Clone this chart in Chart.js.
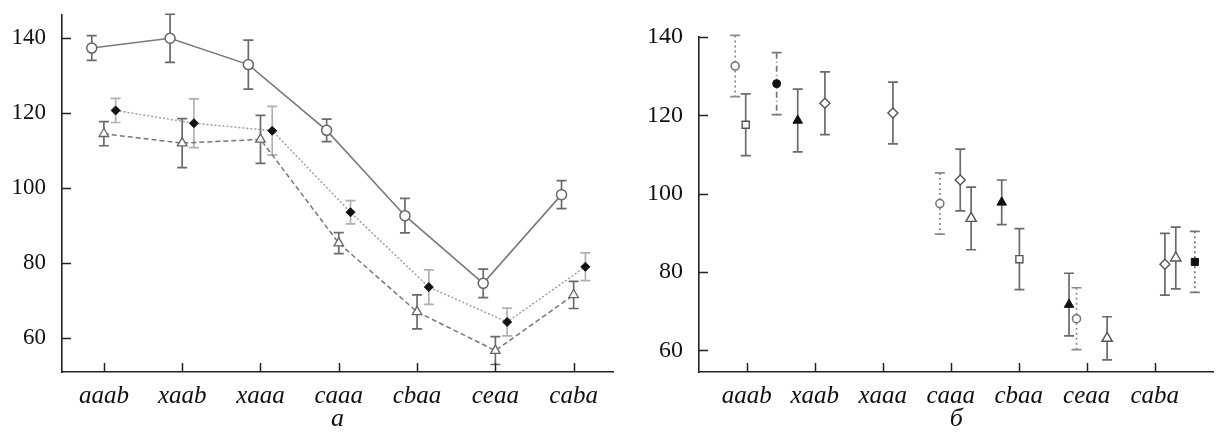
<!DOCTYPE html>
<html>
<head>
<meta charset="utf-8">
<script src="https://cdn.jsdelivr.net/npm/chart.js@4.4.0/dist/chart.umd.min.js"></script>
<style>
  body { margin: 0; background: #fff; overflow: hidden; }
  #panelA { position: absolute; left: 0; top: 0; }
  #panelB { position: absolute; left: 620px; top: 0; }
</style>
</head>
<body>
<canvas id="panelA" width="620" height="440"></canvas>
<canvas id="panelB" width="601" height="440"></canvas>
<script>
// categorías del eje x (las dos gráficas)
const categories = ['aaab', 'xaab', 'xaaa', 'caaa', 'cbaa', 'ceaa', 'caba'];
const yTicks = [60, 80, 100, 120, 140];

// Gráfica a: tres series con líneas
const circleMean = [137.2, 139.8, 132.8, 115.3, 92.6, 74.6, 98.2];
const circleErr = [3.3, 6.4, 6.5, 3.0, 4.6, 3.8, 3.7];
const triangleMean = [114.4, 111.9, 112.9, 85.3, 67.0, 56.7, 71.5];
const triangleErr = [3.2, 6.5, 6.4, 2.8, 4.5, 3.7, 3.6];
const diamondMean = [120.6, 117.2, 115.2, 93.5, 73.6, 64.3, 79.0];
const diamondErr = [3.2, 6.5, 6.5, 3.1, 4.6, 3.7, 3.7];

// Gráfica б: puntos sueltos (x en unidades de categoría)
const smallRingX = [-0.17, 2.84, 4.85];
const smallRingMean = [132.6, 97.5, 68.1];
const smallRingErr = [7.8, 7.8, 7.9];
const openSquareX = [-0.015, 4.01];
const openSquareMean = [117.6, 83.3];
const openSquareErr = [7.9, 7.8];
const blackDotX = [0.44];
const blackDotMean = [128.1];
const blackDotErr = [7.9];
const blackTriX = [0.75, 3.75, 4.74];
const blackTriMean = [118.7, 97.8, 71.7];
const blackTriErr = [8.0, 5.7, 8.0];
const openDiamondX = [1.15, 2.15, 3.14, 6.15];
const openDiamondMean = [123.1, 120.6, 103.5, 82.0];
const openDiamondErr = [8.0, 7.9, 7.9, 7.9];
const openTriX = [3.30, 5.30, 6.31];
const openTriMean = [93.7, 63.1, 83.6];
const openTriErr = [8.0, 5.5, 7.9];
const blackSquareX = [6.59];
const blackSquareMean = [82.6];
const blackSquareErr = [7.8];

const serif = '"Liberation Serif", "Times New Roman", Times, serif';

function puntos(xs, ys) {
    return ys.map((y, i) => ({ x: xs[i], y: y }));
}
function enCategoria(offset, ys) {
    return ys.map((y, i) => ({ x: i + offset, y: y }));
}

// barras de error, dibujadas antes de los marcadores
const errorBars = {
    id: 'errorBars',
    beforeDatasetsDraw(chart) {
        const ctx = chart.ctx;
        const xs = chart.scales.x, ys = chart.scales.y;
        chart.data.datasets.forEach(ds => {
            if (!ds.errors) return;
            ctx.save();
            ctx.strokeStyle = ds.errorColor || '#666';
            ctx.lineWidth = 1.7;
            ds.data.forEach((p, j) => {
                const x = xs.getPixelForValue(p.x);
                const top = ys.getPixelForValue(p.y + ds.errors[j]);
                const bot = ys.getPixelForValue(p.y - ds.errors[j]);
                ctx.setLineDash(ds.errorDash || []);
                ctx.beginPath();
                ctx.moveTo(x, top);
                ctx.lineTo(x, bot);
                ctx.stroke();
                ctx.setLineDash([]);
                ctx.beginPath();
                ctx.moveTo(x - 5, top); ctx.lineTo(x + 5, top);
                ctx.moveTo(x - 5, bot); ctx.lineTo(x + 5, bot);
                ctx.stroke();
            });
            ctx.restore();
        });
    }
};

// marcas de los ejes hacia dentro
const inwardTicks = {
    id: 'inwardTicks',
    afterDraw(chart) {
        const ctx = chart.ctx;
        const area = chart.chartArea;
        const xs = chart.scales.x, ys = chart.scales.y;
        ctx.save();
        ctx.strokeStyle = '#222';
        ctx.lineWidth = 1.5;
        ctx.beginPath();
        xs.ticks.forEach(t => {
            const px = Math.round(xs.getPixelForValue(t.value)) + 0.5;
            ctx.moveTo(px, area.bottom);
            ctx.lineTo(px, area.bottom - 9);
        });
        ys.ticks.forEach(t => {
            const py = Math.round(ys.getPixelForValue(t.value)) + 0.5;
            ctx.moveTo(area.left, py);
            ctx.lineTo(area.left + 9, py);
        });
        ctx.stroke();
        ctx.restore();
    }
};

function opcionesEjes(cfg) {
    return {
        x: {
            type: 'linear',
            min: cfg.xMin, max: cfg.xMax,
            afterBuildTicks: s => { s.ticks = categories.map((c, i) => ({ value: i })); },
            afterFit: s => { s.height = 63; s.paddingLeft = 0; s.paddingRight = 0; },
            grid: { drawOnChartArea: false, drawTicks: false },
            border: { color: '#222', width: 1.6 },
            ticks: {
                padding: 9,
                color: '#111',
                font: { family: serif, size: 25, style: 'italic' },
                callback: v => categories[v]
            },
            title: {
                display: true,
                text: cfg.label,
                color: '#111',
                padding: 0,
                font: { family: serif, size: 26, style: 'italic' }
            }
        },
        y: {
            min: cfg.yMin, max: cfg.yMax,
            afterBuildTicks: s => { s.ticks = yTicks.map(v => ({ value: v })); },
            afterFit: s => { s.width = cfg.yWidth; s.paddingTop = 0; s.paddingBottom = 0; },
            grid: { drawOnChartArea: false, drawTicks: false },
            border: { color: '#222', width: 1.6 },
            ticks: {
                padding: 16,
                color: '#111',
                font: { family: serif, size: cfg.yFont }
            }
        }
    };
}

const comunes = {
    responsive: false,
    animation: false,
    plugins: { legend: { display: false }, tooltip: { enabled: false } }
};

// Gráfica a
new Chart(document.getElementById('panelA'), {
    type: 'scatter',
    data: {
        datasets: [
            {
                data: enCategoria(-0.155, circleMean), errors: circleErr, errorColor: '#6a6a6a',
                showLine: true, borderColor: '#7a7a7a', borderWidth: 1.6,
                pointStyle: 'circle', pointRadius: 5, pointBackgroundColor: '#fff',
                pointBorderColor: '#666', pointBorderWidth: 1.5
            },
            {
                data: enCategoria(0.15, diamondMean), errors: diamondErr, errorColor: '#b0b0b0',
                showLine: true, borderColor: '#9a9a9a', borderWidth: 1.4, borderDash: [2, 2],
                pointStyle: 'rectRot', pointRadius: 4.5, pointBackgroundColor: '#111',
                pointBorderColor: '#111', pointBorderWidth: 1
            },
            {
                data: enCategoria(0, triangleMean), errors: triangleErr, errorColor: '#6a6a6a',
                showLine: true, borderColor: '#777', borderWidth: 1.5, borderDash: [5, 3],
                pointStyle: 'triangle', pointRadius: 5.5, pointBackgroundColor: '#fff',
                pointBorderColor: '#666', pointBorderWidth: 1.3
            }
        ]
    },
    options: Object.assign({}, comunes, {
        layout: { padding: { top: 15, right: 5, bottom: 5, left: 0 } },
        scales: opcionesEjes({ xMin: -0.535, xMax: 6.505, yMin: 51, yMax: 146, yWidth: 62, yFont: 23, label: 'а' })
    }),
    plugins: [errorBars, inwardTicks]
});

// Gráfica б
function serie(xs, ys, errs, estilo) {
    return Object.assign({ data: puntos(xs, ys), errors: errs, showLine: false }, estilo);
}

new Chart(document.getElementById('panelB'), {
    type: 'scatter',
    data: {
        datasets: [
            serie(smallRingX, smallRingMean, smallRingErr, {
                errorColor: '#8a8a8a', errorDash: [2, 3],
                pointStyle: 'circle', pointRadius: 4, pointBackgroundColor: '#fff',
                pointBorderColor: '#777', pointBorderWidth: 1.6
            }),
            serie(openSquareX, openSquareMean, openSquareErr, {
                errorColor: '#6a6a6a',
                pointStyle: 'rect', pointRadius: 5, pointBackgroundColor: '#fff',
                pointBorderColor: '#555', pointBorderWidth: 1.4
            }),
            serie(blackDotX, blackDotMean, blackDotErr, {
                errorColor: '#777', errorDash: [6, 3, 1, 3],
                pointStyle: 'circle', pointRadius: 4, pointBackgroundColor: '#111',
                pointBorderColor: '#111', pointBorderWidth: 1
            }),
            serie(blackTriX, blackTriMean, blackTriErr, {
                errorColor: '#6a6a6a',
                pointStyle: 'triangle', pointRadius: 5.5, pointBackgroundColor: '#111',
                pointBorderColor: '#111', pointBorderWidth: 1
            }),
            serie(openDiamondX, openDiamondMean, openDiamondErr, {
                errorColor: '#6a6a6a',
                pointStyle: 'rectRot', pointRadius: 5, pointBackgroundColor: '#fff',
                pointBorderColor: '#555', pointBorderWidth: 1.4
            }),
            serie(openTriX, openTriMean, openTriErr, {
                errorColor: '#6a6a6a',
                pointStyle: 'triangle', pointRadius: 6, pointBackgroundColor: '#fff',
                pointBorderColor: '#555', pointBorderWidth: 1.4
            }),
            serie(blackSquareX, blackSquareMean, blackSquareErr, {
                errorColor: '#777', errorDash: [2, 3],
                pointStyle: 'rect', pointRadius: 5, pointBackgroundColor: '#111',
                pointBorderColor: '#111', pointBorderWidth: 1
            })
        ]
    },
    options: Object.assign({}, comunes, {
        layout: { padding: { top: 37, right: 0, bottom: 5, left: 0 } },
        scales: opcionesEjes({ xMin: -0.702, xMax: 6.866, yMin: 54.5, yMax: 140, yWidth: 79, yFont: 24, label: 'б' })
    }),
    plugins: [errorBars, inwardTicks]
});
</script>
</body>
</html>
